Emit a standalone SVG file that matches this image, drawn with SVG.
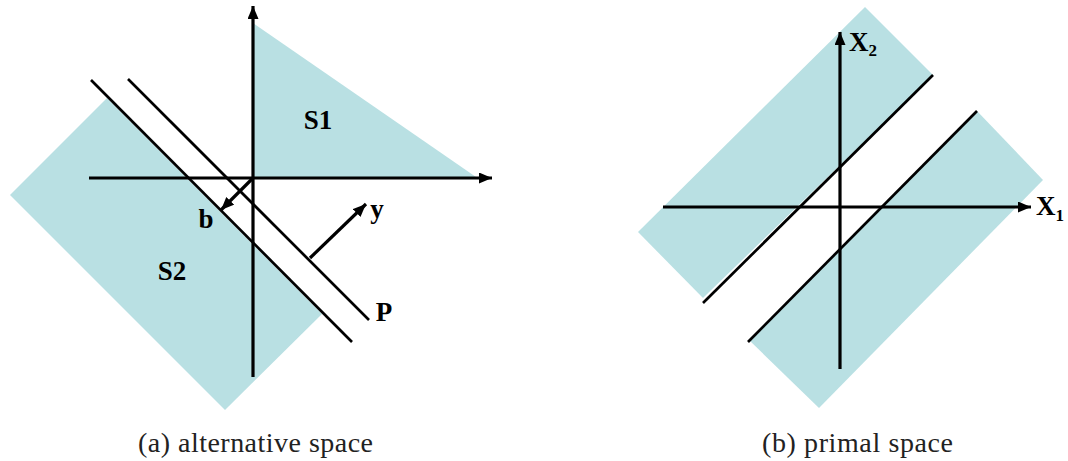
<svg xmlns="http://www.w3.org/2000/svg" width="1068" height="461" viewBox="0 0 1068 461">
<style>
.region{fill:#b9e0e3;stroke:none}
.ax{stroke:#000;stroke-width:3.2;fill:none}
.ln{stroke:#000;stroke-width:2.7;fill:none}
.lbl{font-family:'Liberation Serif','Times New Roman',serif;font-weight:bold;font-size:27px;fill:#000}
.sub{font-family:'Liberation Serif','Times New Roman',serif;font-weight:bold;font-size:17px;fill:#000}
.cap{font-family:'Liberation Serif','Times New Roman',serif;font-size:28px;fill:#222}
</style>
<defs>
<marker id="ah" markerUnits="userSpaceOnUse" markerWidth="16" markerHeight="12" refX="13" refY="5.5" orient="auto">
<path d="M0,0 L13,5.5 L0,11 Z" fill="#000"/>
</marker>
</defs>
<g id="panel-a-regions">
<polygon id="S1-region" class="region" points="253,23 476,177 253,177"/>
<polygon id="S2-region" class="region" points="107,98 10,195 225,410 322,314"/>
</g>
<g id="panel-b-regions">
<polygon id="upper-region" class="region" points="865,7 638,232 703,298 933,75"/>
<polygon id="lower-region" class="region" points="977,111 1043,180 819,408 750,341"/>
</g>
<g id="connectors">
<line class="ax" x1="253" y1="377" x2="253" y2="6" marker-end="url(#ah)"/>
<line class="ax" x1="89" y1="178" x2="492" y2="178" marker-end="url(#ah)"/>
<line class="ln" x1="91" y1="80" x2="352" y2="342"/>
<line class="ln" x1="128" y1="79" x2="369" y2="320"/>
<line class="ax" x1="253" y1="178" x2="221" y2="210" marker-end="url(#ah)"/>
<line class="ax" x1="310" y1="258" x2="366" y2="204" marker-end="url(#ah)"/>
<line class="ax" x1="840" y1="369" x2="840" y2="32" marker-end="url(#ah)"/>
<line class="ax" x1="663" y1="207" x2="1031" y2="207" marker-end="url(#ah)"/>
<line class="ln" x1="703" y1="303" x2="933" y2="75"/>
<line class="ln" x1="748" y1="342" x2="977" y2="111"/>
</g>
<g id="labels">
<text id="S1" class="lbl" x="318" y="129" text-anchor="middle">S1</text>
<text id="S2" class="lbl" x="172" y="280" text-anchor="middle">S2</text>
<text id="b" class="lbl" x="206" y="228" text-anchor="middle">b</text>
<text id="y" class="lbl" x="377" y="218" text-anchor="middle">y</text>
<text id="P" class="lbl" x="384" y="321" text-anchor="middle">P</text>
<text id="X2" class="lbl" x="849" y="51">X<tspan class="sub" dy="5">2</tspan></text>
<text id="X1" class="lbl" x="1036" y="215">X<tspan class="sub" dy="6">1</tspan></text>
<text id="cap-a" class="cap" x="138" y="452" textLength="235" lengthAdjust="spacing">(a)  alternative space</text>
<text id="cap-b" class="cap" x="762" y="452" textLength="191" lengthAdjust="spacing">(b)  primal space</text>
</g>
</svg>
